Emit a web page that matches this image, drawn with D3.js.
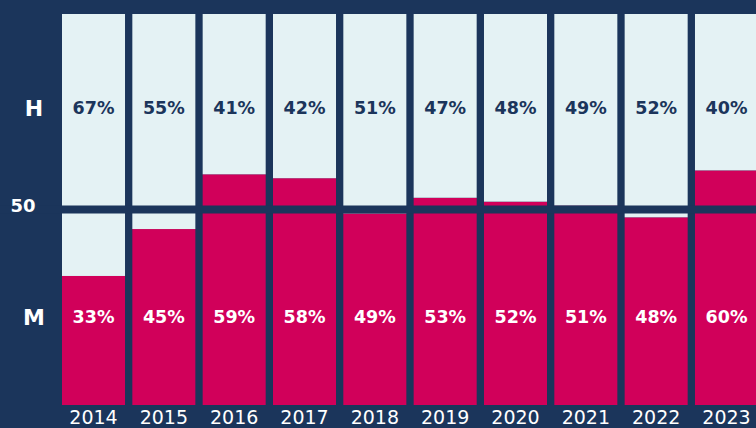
<!DOCTYPE html>
<html>
<head>
<meta charset="utf-8">
<script src="https://cdn.jsdelivr.net/npm/d3@7"></script>
<style>
  html, body { margin: 0; padding: 0; background: #1b355b; overflow: hidden; }
  svg { display: block; }
</style>
</head>
<body>
<script>
const years = ["2014","2015","2016","2017","2018","2019","2020","2021","2022","2023"];
const hValues = [67, 55, 41, 42, 51, 47, 48, 49, 52, 40];
const mValues = [33, 45, 59, 58, 49, 53, 52, 51, 48, 60];
const rowLabels = ["H", "M"];
const midTick = [50];

const W = 756, H = 428;
const navy = "#1b355b", light = "#e4f2f4", crimson = "#d1005a";
const font = "'DejaVu Sans', sans-serif";

const svg = d3.select("body").append("svg").attr("width", W).attr("height", H);
svg.append("rect").attr("width", W).attr("height", H).attr("fill", navy);

const x = d3.scaleBand().domain(years).range([62, 758]).paddingInner(0.104).paddingOuter(0);
const y = d3.scaleLinear().domain([0, 100]).range([405, 14]);

const data = years.map((yr, i) => ({ year: yr, h: hValues[i], m: mValues[i] }));

// M (bottom, crimson)
svg.selectAll("rect.m").data(data).join("rect")
  .attr("class", "m")
  .attr("x", d => x(d.year)).attr("width", x.bandwidth())
  .attr("y", d => y(d.m)).attr("height", d => y(0) - y(d.m))
  .attr("fill", crimson);

// H (top, light)
svg.selectAll("rect.h").data(data).join("rect")
  .attr("class", "h")
  .attr("x", d => x(d.year)).attr("width", x.bandwidth())
  .attr("y", d => y(d.m + d.h)).attr("height", d => y(d.m) - y(d.m + d.h))
  .attr("fill", light);

// 50 line
svg.selectAll("rect.mid").data(midTick).join("rect")
  .attr("class", "mid")
  .attr("x", 0).attr("width", W)
  .attr("y", d => y(d) - 4).attr("height", 8)
  .attr("fill", navy);

// percent labels
const labY = { h: 108, m: 317 };
svg.selectAll("text.hl").data(data).join("text")
  .attr("class", "hl")
  .attr("x", d => x(d.year) + x.bandwidth() / 2).attr("y", labY.h)
  .attr("text-anchor", "middle").attr("dominant-baseline", "central")
  .attr("font-family", font).attr("font-weight", "bold").attr("font-size", 17.5)
  .attr("fill", navy)
  .text(d => d.h + "%");
svg.selectAll("text.ml").data(data).join("text")
  .attr("class", "ml")
  .attr("x", d => x(d.year) + x.bandwidth() / 2).attr("y", labY.m)
  .attr("text-anchor", "middle").attr("dominant-baseline", "central")
  .attr("font-family", font).attr("font-weight", "bold").attr("font-size", 17.5)
  .attr("fill", "#ffffff")
  .text(d => d.m + "%");

// row labels
svg.selectAll("text.row").data(rowLabels).join("text")
  .attr("class", "row")
  .attr("x", 34).attr("y", (d, i) => i === 0 ? labY.h : labY.m)
  .attr("text-anchor", "middle").attr("dominant-baseline", "central")
  .attr("font-family", font).attr("font-weight", "bold").attr("font-size", 22)
  .attr("fill", "#ffffff")
  .text(d => d);

svg.selectAll("text.midl").data(midTick).join("text")
  .attr("class", "midl")
  .attr("x", 23).attr("y", d => y(d) - 4)
  .attr("text-anchor", "middle").attr("dominant-baseline", "central")
  .attr("font-family", font).attr("font-weight", "bold").attr("font-size", 18)
  .attr("fill", "#ffffff")
  .text(d => d);

// year axis
const xAxis = svg.append("g").attr("transform", "translate(0,405)")
  .call(d3.axisBottom(x).tickSize(0).tickPadding(6));
xAxis.select(".domain").remove();
xAxis.selectAll("text")
  .attr("font-family", font).attr("font-size", 19).attr("fill", "#ffffff");
</script>
</body>
</html>
